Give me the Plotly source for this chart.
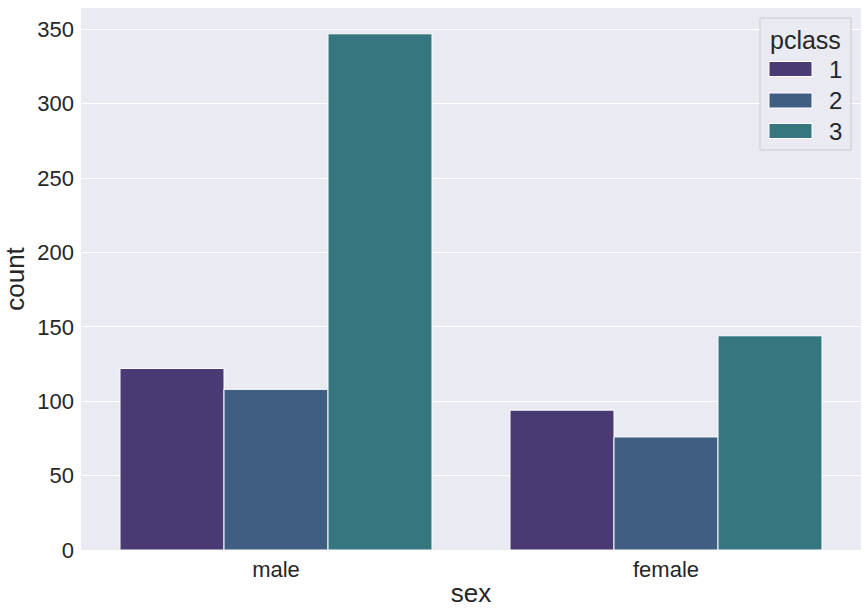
import plotly.graph_objects as go

categories = ["male", "female"]
classes = ["1", "2", "3"]
counts = {
    "1": [122, 94],
    "2": [108, 76],
    "3": [347, 144],
}
colors = {"1": "#4a3a74", "2": "#405e82", "3": "#35767f"}
y_ticks = [0, 50, 100, 150, 200, 250, 300, 350]

W, H = 868, 614
L, R, T, B = 81, 7, 8, 64
PW, PH = W - L - R, H - T - B


def px(xp):
    return (xp - L) / PW


def py(yp):
    return (H - B - yp) / PH


fig = go.Figure()
for c in classes:
    fig.add_trace(go.Bar(
        x=categories, y=counts[c], name=c, showlegend=False,
        marker=dict(color=colors[c], line=dict(color="white", width=1)),
    ))

font_family = "Liberation Sans, Arial, sans-serif"
fig.update_layout(
    width=W, height=H,
    barmode="group", bargap=0.2, bargroupgap=0,
    paper_bgcolor="white", plot_bgcolor="#eaeaf2",
    margin=dict(l=L, r=R, t=T, b=B),
    font=dict(family=font_family, size=22, color="#262626"),
    xaxis=dict(title=dict(text="sex", font=dict(size=26), standoff=2),
               showgrid=False, ticks="", tickfont=dict(size=22),
               range=[-0.5, 1.5], automargin=False, ticklabelstandoff=4),
    yaxis=dict(title=dict(text="count", font=dict(size=26), standoff=5),
               range=[0, 364.35], tickvals=y_ticks, gridcolor="white",
               gridwidth=1, zeroline=False, ticks="", tickfont=dict(size=22),
               automargin=False, ticklabelstandoff=6),
    showlegend=False,
)

# legend drawn as shapes/annotations (seaborn style, wide swatches)
shapes = [dict(type="rect", xref="paper", yref="paper",
               x0=px(760), x1=px(851), y0=py(150), y1=py(18),
               fillcolor="rgba(234,234,242,0.85)", line=dict(color="#cccccc", width=1),
               layer="above")]
annotations = [dict(text="pclass", xref="paper", yref="paper",
                    x=px(805), y=py(40), showarrow=False,
                    font=dict(size=25), xanchor="center", yanchor="middle")]
centers = [69, 100.5, 131]
for c, yc in zip(classes, centers):
    shapes.append(dict(type="rect", xref="paper", yref="paper",
                       x0=px(769), x1=px(812), y0=py(yc + 7.5), y1=py(yc - 7.5),
                       fillcolor=colors[c], line=dict(color="white", width=1),
                       layer="above"))
    annotations.append(dict(text=c, xref="paper", yref="paper",
                            x=px(835), y=py(yc), showarrow=False,
                            font=dict(size=24), xanchor="center", yanchor="middle"))
fig.update_layout(shapes=shapes, annotations=annotations)

fig.write_html(
    "out.html",
    config={"displayModeBar": False},
    post_script="document.body.style.margin='0';document.body.style.overflow='hidden';",
)
